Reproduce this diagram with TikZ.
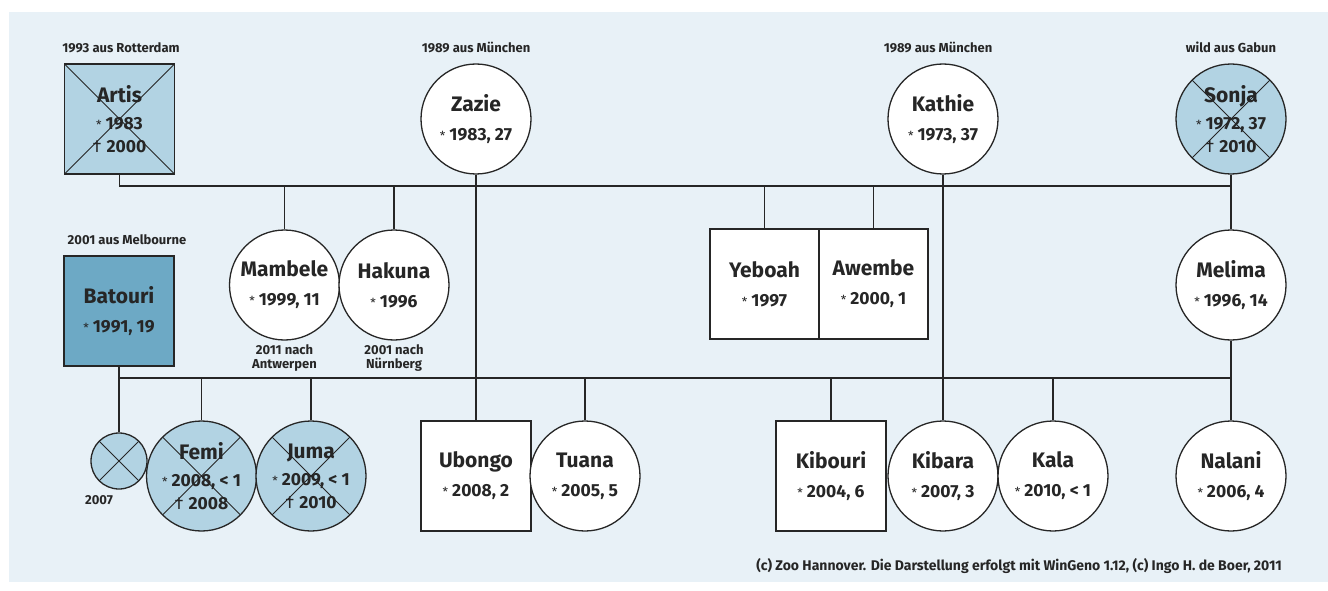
\documentclass[tikz,border=0pt]{standalone}
\usepackage{fontspec}
\setmainfont{Fira Sans}
\usepackage{xcolor}
\usepackage{tikz}
\usetikzlibrary{positioning}
\definecolor{panel}{HTML}{E8F1F7}
\definecolor{gone}{HTML}{B2D3E3}
\definecolor{import}{HTML}{6DA9C5}
\definecolor{ink}{HTML}{262626}
\newcommand{\nm}[1]{{\fontsize{21}{24}\selectfont\bfseries #1}}
\newcommand{\bn}[1]{{\bfseries{\mdseries\fontsize{12.5}{14}\selectfont *}\hspace{4pt}#1}}
\newcommand{\dd}[1]{{\bfseries{\mdseries †}\hspace{5pt}#1}}

\begin{document}
\begin{tikzpicture}[x=1pt, y=-1pt,
    every node/.style={text=ink},
    animal/.style={draw=ink, line width=1.3pt, fill=white, inner sep=0pt, align=center,
        font=\fontsize{17.5}{23}\selectfont},
    male/.style={animal, rectangle, minimum size=110pt},
    female/.style={animal, circle, minimum size=110pt},
    crossed/.style={fill=gone, path picture={
        \draw[ink, line width=0.8pt] (path picture bounding box.north west) -- (path picture bounding box.south east)
            (path picture bounding box.north east) -- (path picture bounding box.south west);}},
    lab/.style={inner sep=0pt, font=\fontsize{13}{14}\selectfont\bfseries, align=center},
    line/.style={draw=ink, line width=1.3pt}
    ]

    \useasboundingbox (0,0) rectangle (1328,591);
    \fill[panel] (9,12) rectangle (1328,582);

    % parents
    \node[male, crossed] (artis) at (119.5,119) {\nm{Artis}\\[4pt]\bn{1983}\\\dd{2000}};
    \node[female] (zazie) at (476,119) {\nm{Zazie}\\[6pt]\bn{1983, 27}};
    \node[female] (kathie) at (943,119) {\nm{Kathie}\\[6pt]\bn{1973, 37}};
    \node[female, crossed] (sonja) at (1231,119) {\nm{Sonja}\\[4pt]\bn{1972, 37}\\\dd{2010}};
    \node[male, fill=import] (batouri) at (119,311) {\nm{Batouri}\\[6pt]\bn{1991, 19}};

    \node[lab, anchor=base] (artisin) at (121,53) {1993 aus Rotterdam};
    \node[lab, anchor=base] (zaziein) at (476,53) {1989 aus München};
    \node[lab, anchor=base] (kathiein) at (938,53) {1989 aus München};
    \node[lab, anchor=base] (sonjain) at (1231,53) {wild aus Gabun};
    \node[lab, anchor=base] (batouriin) at (127,244) {2001 aus Melbourne};

    % first litters
    \node[female] (mambele) at (284.5,285) {\nm{Mambele}\\[6pt]\bn{1999, 11}};
    \node[female] (hakuna) at (394,285) {\nm{Hakuna}\\[6pt]\bn{1996}};
    \node[male, minimum width=109pt] (yeboah) at (764.5,284) {\nm{Yeboah}\\[6pt]\bn{1997}};
    \node[male, minimum width=109pt] (awembe) at (873.5,284) {\nm{Awembe}\\[6pt]\bn{2000, 1}};
    \node[female] (melima) at (1231,285) {\nm{Melima}\\[6pt]\bn{1996, 14}};

    \node[lab, anchor=north] (mambeleout) at (284.5,344) {2011 nach\\Antwerpen};
    \node[lab, anchor=north] (hakunaout) at (394,344) {2001 nach\\Nürnberg};

    % second litters
    \node[female, crossed, minimum size=56pt] (stillborn) at (119,461) {};
    \node[female, crossed] (femi) at (201.5,476) {\nm{Femi}\\[4pt]\bn{2008, < 1}\\\dd{2008}};
    \node[female, crossed] (juma) at (311,476) {\nm{Juma}\\[4pt]\bn{2009, < 1}\\\dd{2010}};
    \node[male] (ubongo) at (476,476) {\nm{Ubongo}\\[6pt]\bn{2008, 2}};
    \node[female] (tuana) at (585,476) {\nm{Tuana}\\[6pt]\bn{2005, 5}};
    \node[male] (kibouri) at (831,476) {\nm{Kibouri}\\[6pt]\bn{2004, 6}};
    \node[female] (kibara) at (943,476) {\nm{Kibara}\\[6pt]\bn{2007, 3}};
    \node[female] (kala) at (1053,476) {\nm{Kala}\\[6pt]\bn{2010, < 1}};
    \node[female] (nalani) at (1231,476) {\nm{Nalani}\\[6pt]\bn{2006, 4}};

    \node[lab, anchor=base] (stillbornyear) at (99,504) {2007};

    \node[lab, anchor=base east, font=\fontsize{14}{15}\selectfont\bfseries] (credit) at (1282,570)
        {(c) Zoo Hannover. Die Darstellung erfolgt mit WinGeno 1.12, (c) Ingo H. de Boer, 2011};

    % connectors
    \coordinate (bar1) at (0,186);
    \coordinate (bar2) at (0,378);
    \draw[line] (artis.south) -- (artis.south |- bar1) -- (sonja.south |- bar1);
    \draw[line] (sonja.south) -- (melima.north);
    \foreach \kid in {mambele,hakuna,yeboah,awembe}
        \draw[line] (\kid.north) -- (\kid.north |- bar1);
    \draw[line] (zazie.south) -- (ubongo.north);
    \draw[line] (kathie.south) -- (kibara.north);
    \draw[line] (batouri.south) -- (batouri.south |- bar2) -- (melima.south |- bar2);
    \draw[line] (melima.south) -- (nalani.north);
    \foreach \kid in {stillborn,femi,juma,tuana,kibouri,kala}
        \draw[line] (\kid.north) -- (\kid.north |- bar2);
\end{tikzpicture}
\end{document}
